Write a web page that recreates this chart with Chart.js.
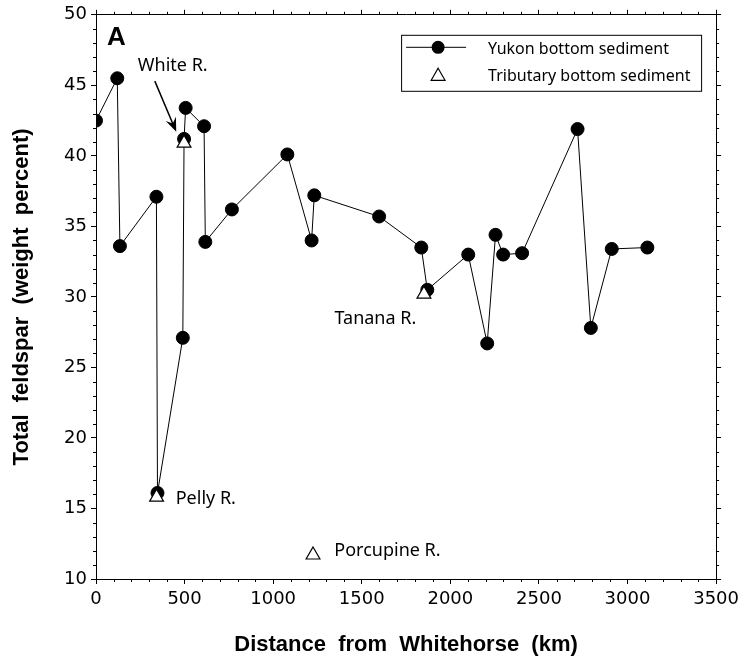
<!DOCTYPE html>
<html>
<head>
<meta charset="utf-8">
<title>Total feldspar vs distance from Whitehorse</title>
<script src="https://cdn.jsdelivr.net/npm/chart.js@4.4.0/dist/chart.umd.min.js"></script>
<style>
    html, body { margin: 0; padding: 0; background: #fff; }
    #wrap { width: 744px; height: 661px; }
</style>
</head>
<body>
<div id="wrap"><canvas id="feldsparChart" width="744" height="661"></canvas></div>
<script>
// Yukon main-stem samples, in downstream order (km, weight %)
const yukonDistance = [0, 120, 135, 341, 347, 490, 497, 506, 610, 617, 767, 1080, 1217, 1232,
    1598, 1836, 1870, 2101, 2208, 2255, 2298, 2405, 2718, 2793, 2911, 3112];
const yukonFeldspar = [42.5, 45.5, 33.6, 37.1, 16.1, 27.1, 41.2, 43.4, 42.1, 33.9, 36.2, 40.1, 34.0, 37.2,
    35.7, 33.5, 30.5, 33.0, 26.7, 34.4, 33.0, 33.1, 41.9, 27.8, 33.4, 33.5];

// tributary samples
const tributaryNames = ['White R.', 'Pelly R.', 'Tanana R.', 'Porcupine R.'];
const tributaryDistance = [497, 342, 1851, 1225];
const tributaryFeldspar = [40.9, 15.8, 30.2, 11.7];

// axis ticks
const xTickValues = [0, 500, 1000, 1500, 2000, 2500, 3000, 3500];
const yTickValues = [10, 15, 20, 25, 30, 35, 40, 45, 50];

// where the tributary names sit (data units)
const nameAnchors = [
    { x: 236, y: 46.05 },
    { x: 450, y: 15.3 },
    { x: 1346, y: 28.1 },
    { x: 1345, y: 11.65 }
];
const whiteArrow = { from: { x: 332, y: 45.3 }, to: { x: 453, y: 41.7 } };

const toPoints = (xs, ys) => xs.map((d, i) => ({ x: d, y: ys[i] }));
const useTicks = values => scale => { scale.ticks = values.map(v => ({ value: v })); };

const minorTicks = {
    id: 'minorTicks',
    afterDraw(chart) {
        const { ctx, chartArea: a, scales: { x, y } } = chart;
        ctx.save();
        ctx.strokeStyle = '#000';
        ctx.lineWidth = 1;
        ctx.beginPath();
        for (let v = 0; v <= 3500; v += 100) {
            if (v % 500 === 0) continue;
            const px = Math.round(x.getPixelForValue(v)) + 0.5;
            ctx.moveTo(px, a.bottom); ctx.lineTo(px, a.bottom + 3);
            ctx.moveTo(px, a.top); ctx.lineTo(px, a.top - 3);
        }
        for (let v = 10; v <= 50; v += 1) {
            if (v % 5 === 0) continue;
            const py = Math.round(y.getPixelForValue(v)) + 0.5;
            ctx.moveTo(a.left, py); ctx.lineTo(a.left - 3, py);
            ctx.moveTo(a.right, py); ctx.lineTo(a.right + 3, py);
        }
        ctx.stroke();
        ctx.restore();
    }
};

const annotations = {
    id: 'annotations',
    afterDraw(chart) {
        const { ctx, chartArea: a, scales: { x, y } } = chart;
        ctx.save();
        ctx.fillStyle = '#000';
        ctx.strokeStyle = '#000';
        ctx.textAlign = 'left';
        ctx.textBaseline = 'alphabetic';

        // panel letter
        ctx.font = 'bold 26px "Liberation Sans"';
        ctx.fillText('A', a.left + 11, a.top + 30);

        // tributary names
        ctx.font = '18px "Noto Sans"';
        tributaryNames.forEach((name, i) => {
            const p = nameAnchors[i];
            ctx.fillText(name, x.getPixelForValue(p.x), y.getPixelForValue(p.y));
        });

        // arrow to White R.
        const x0 = x.getPixelForValue(whiteArrow.from.x), y0 = y.getPixelForValue(whiteArrow.from.y);
        const x1 = x.getPixelForValue(whiteArrow.to.x), y1 = y.getPixelForValue(whiteArrow.to.y);
        const ang = Math.atan2(y1 - y0, x1 - x0);
        const ux = Math.cos(ang), uy = Math.sin(ang);
        ctx.lineWidth = 1.5;
        ctx.beginPath();
        ctx.moveTo(x0, y0);
        ctx.lineTo(x1 - ux * 8, y1 - uy * 8);
        ctx.stroke();
        ctx.beginPath();
        ctx.moveTo(x1, y1);
        ctx.lineTo(x1 - ux * 14 + uy * 5.5, y1 - uy * 14 - ux * 5.5);
        ctx.lineTo(x1 - ux * 9, y1 - uy * 9);
        ctx.lineTo(x1 - ux * 14 - uy * 5.5, y1 - uy * 14 + ux * 5.5);
        ctx.closePath();
        ctx.fill();

        // legend box
        const bx = a.right - 315, by = a.top + 20;
        ctx.lineWidth = 1;
        ctx.strokeRect(bx + 0.5, by + 0.5, 300, 56);
        ctx.beginPath();
        ctx.moveTo(bx + 5, by + 12.5);
        ctx.lineTo(bx + 65, by + 12.5);
        ctx.stroke();
        ctx.beginPath();
        ctx.arc(bx + 37, by + 12.5, 6.5, 0, Math.PI * 2);
        ctx.fill();
        const tx = bx + 37, ty = by + 41.5, r = 8;
        ctx.beginPath();
        ctx.moveTo(tx, ty - r);
        ctx.lineTo(tx + Math.sin(2 * Math.PI / 3) * r, ty - Math.cos(2 * Math.PI / 3) * r);
        ctx.lineTo(tx + Math.sin(4 * Math.PI / 3) * r, ty - Math.cos(4 * Math.PI / 3) * r);
        ctx.closePath();
        ctx.fillStyle = '#fff';
        ctx.fill();
        ctx.lineWidth = 1.2;
        ctx.stroke();
        ctx.fillStyle = '#000';
        ctx.font = '16px "Noto Sans"';
        ctx.fillText('Yukon bottom sediment', bx + 87, by + 19);
        ctx.fillText('Tributary bottom sediment', bx + 87, by + 46);
        ctx.restore();
    }
};

function createChart() {
    const ctx = document.getElementById('feldsparChart').getContext('2d');
    const tickFont = { family: 'DejaVu Sans', size: 18 };
    const titleFont = { family: 'Liberation Sans', size: 22, weight: 'bold' };
    const axisGrid = { drawOnChartArea: false, tickLength: 5, color: '#000', tickColor: '#000' };
    const axisBorder = { color: '#000', width: 1 };
    const plainLabel = v => String(v);

    new Chart(ctx, {
        type: 'scatter',
        data: {
            datasets: [{
                label: 'Tributary bottom sediment',
                data: toPoints(tributaryDistance, tributaryFeldspar),
                showLine: false,
                pointStyle: 'triangle',
                pointRadius: 8,
                pointBackgroundColor: '#fff',
                pointBorderColor: '#000',
                pointBorderWidth: 1.2,
                order: 0
            }, {
                label: 'Yukon bottom sediment',
                data: toPoints(yukonDistance, yukonFeldspar),
                showLine: true,
                borderColor: '#000',
                borderWidth: 1,
                tension: 0,
                pointRadius: 6.5,
                pointBackgroundColor: '#000',
                pointBorderColor: '#000',
                pointBorderWidth: 1,
                order: 1
            }]
        },
        options: {
            responsive: false,
            animation: false,
            devicePixelRatio: 1,
            layout: { padding: 0 },
            plugins: {
                legend: { display: false },
                tooltip: { enabled: false }
            },
            scales: {
                x: {
                    type: 'linear', position: 'bottom', min: 0, max: 3500,
                    afterBuildTicks: useTicks(xTickValues),
                    afterFit: s => { s.height = 82; },
                    grid: axisGrid, border: axisBorder,
                    ticks: { color: '#000', font: tickFont, padding: 5, maxRotation: 0, autoSkip: false,
                        callback: plainLabel },
                    title: { display: true, text: 'Distance  from  Whitehorse  (km)', color: '#000',
                        font: titleFont, padding: { top: 0, bottom: 3 } }
                },
                x2: {
                    type: 'linear', position: 'top', min: 0, max: 3500,
                    afterBuildTicks: useTicks(xTickValues),
                    afterFit: s => { s.height = 12; },
                    grid: axisGrid, border: axisBorder,
                    ticks: { display: false }
                },
                y: {
                    type: 'linear', position: 'left', min: 10, max: 50,
                    afterBuildTicks: useTicks(yTickValues),
                    afterFit: s => { s.width = 96; },
                    grid: axisGrid, border: axisBorder,
                    ticks: { color: '#000', font: tickFont, padding: 4, autoSkip: false,
                        callback: plainLabel },
                    title: { display: true, text: 'Total  feldspar  (weight  percent)', color: '#000',
                        font: titleFont, padding: { top: 9, bottom: 0 } }
                },
                y2: {
                    type: 'linear', position: 'right', min: 10, max: 50,
                    afterBuildTicks: useTicks(yTickValues),
                    afterFit: s => { s.width = 26; },
                    grid: axisGrid, border: axisBorder,
                    ticks: { display: false }
                }
            }
        },
        plugins: [minorTicks, annotations]
    });
}

document.addEventListener('DOMContentLoaded', createChart);
</script>
</body>
</html>
